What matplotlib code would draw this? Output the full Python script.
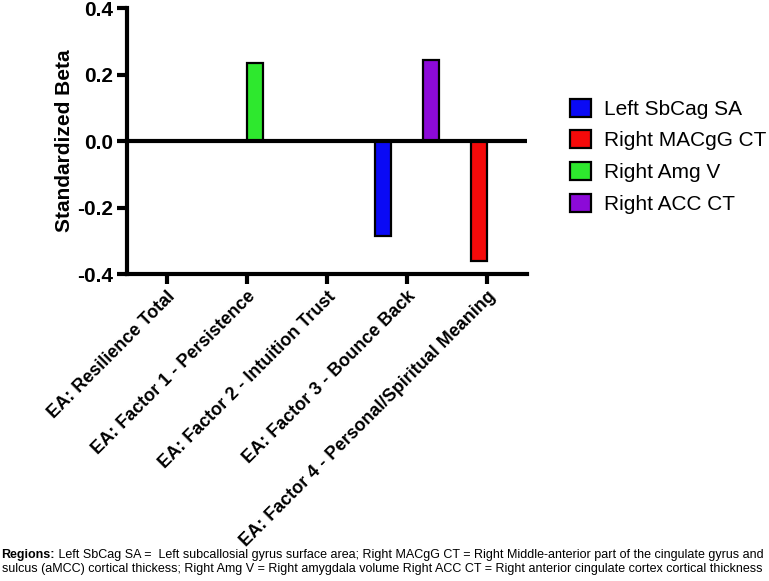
import matplotlib.pyplot as plt
import numpy as np

plt.rcParams["font.family"] = ["Liberation Sans", "DejaVu Sans"]

categories = [
    "EA: Resilience Total",
    "EA: Factor 1 - Persistence",
    "EA: Factor 2 - Intuition Trust",
    "EA: Factor 3 - Bounce Back",
    "EA: Factor 4 - Personal/Spiritual Meaning",
]
series_names = ["Left SbCag SA", "Right MACgG CT", "Right Amg V", "Right ACC CT"]
series_colors = ["#0a0af5", "#f50a0a", "#2ee82e", "#8c0ad8"]
# beta values per series (0 = no bar)
left_sbcag = [0, 0, 0, -0.285, 0]
right_macgg = [0, 0, 0, 0, -0.36]
right_amg = [0, 0.235, 0, 0, 0]
right_acc = [0, 0, 0, 0.245, 0]
values = [left_sbcag, right_macgg, right_amg, right_acc]

caption_bold = "Regions:"
caption_line1 = " Left SbCag SA =  Left subcallosial gyrus surface area; Right MACgG CT = Right Middle-anterior part of the cingulate gyrus and"
caption_line2 = "sulcus (aMCC) cortical thickess; Right Amg V = Right amygdala volume Right ACC CT = Right anterior cingulate cortex cortical thickness"

fig = plt.figure(figsize=(7.69, 5.81), dpi=100)
ax = fig.add_axes([0.165, 0.528, 0.52, 0.458])

x = np.arange(len(categories))
w = 0.2
offsets = [-0.3, -0.1, 0.1, 0.3]
for vals, name, col, off in zip(values, series_names, series_colors, offsets):
    ax.bar(x + off, vals, width=w, color=col, edgecolor="black", linewidth=1.6, label=name, zorder=2)

ax.axhline(0, color="black", lw=3, zorder=3)
ax.set_xlim(-0.5, 4.5)
ax.set_ylim(-0.4, 0.4)
ax.set_yticks([-0.4, -0.2, 0.0, 0.2, 0.4])
ax.set_yticklabels(["-0.4", "-0.2", "0.0", "0.2", "0.4"], fontsize=15, fontweight="bold")
ax.set_xticks(x)
ax.set_xticklabels(categories, rotation=45, ha="right", rotation_mode="anchor",
                   fontsize=13, fontweight="bold")
for s in ["top", "right"]:
    ax.spines[s].set_visible(False)
for s in ["left", "bottom"]:
    ax.spines[s].set_linewidth(3)
ax.tick_params(axis="both", width=3, length=7, pad=3)
ax.set_ylabel("Standardized Beta", fontsize=15, fontweight="bold", labelpad=2)

ax.legend(loc="upper left", bbox_to_anchor=(1.06, 0.73), frameon=False, fontsize=15,
          handlelength=1.05, handleheight=0.95, handletextpad=0.6, labelspacing=0.55)

H = fig.bbox.height
fs = 9
t1 = fig.text(0.002, 1 - 558 / H, caption_bold, fontsize=fs, fontweight="bold", va="baseline")
fig.canvas.draw()
bb = t1.get_window_extent(fig.canvas.get_renderer())
fig.text(bb.x1 / fig.bbox.width, 1 - 558 / H, caption_line1, fontsize=fs, va="baseline")
fig.text(0.002, 1 - 572 / H, caption_line2, fontsize=fs, va="baseline")

fig.savefig("out.png", dpi=100)
